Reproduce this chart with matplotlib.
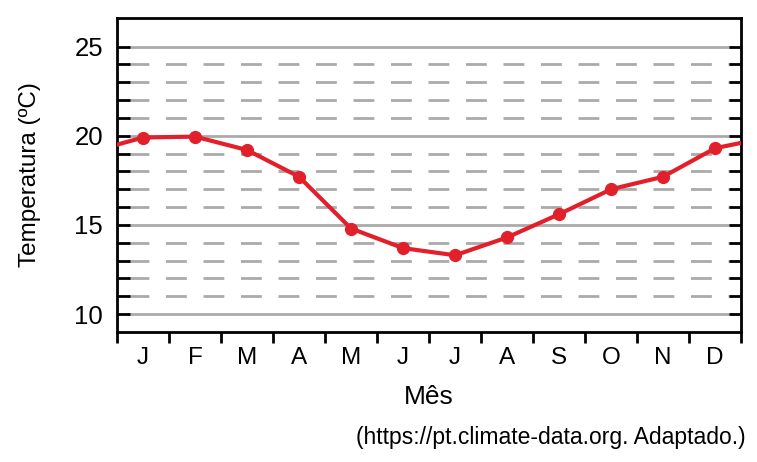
import numpy as np
import matplotlib
matplotlib.use("Agg")
import matplotlib.pyplot as plt

plt.rcParams["font.family"] = ["Liberation Sans", "DejaVu Sans"]

months = ["J", "F", "M", "A", "M", "J", "J", "A", "S", "O", "N", "D"]
temps = [19.9, 19.95, 19.2, 17.7, 14.8, 13.7, 13.3, 14.3, 15.6, 17.0, 17.7, 19.3]
edge_temps = [19.5, 19.6]  # line value at the left and right border of the plot
solid_levels = [10, 15, 20, 25]
dashed_levels = [l for l in range(11, 25) if l % 5 != 0]

fig = plt.figure(figsize=(7.57, 4.62), dpi=100)
ax = fig.add_axes([0.1546, 0.2814, 0.8244, 0.6797])

for lv in solid_levels:
    ax.axhline(lv, xmin=0.018, xmax=0.985, color="#aaaaaa", lw=2, zorder=1)
for lv in dashed_levels:
    ax.axhline(lv, xmin=0.018, xmax=0.985, color="#aaaaaa", lw=2,
               dashes=(7.5, 6), zorder=1)

x = np.arange(12) + 0.5
line_x = np.concatenate([[0], x, [12]])
line_y = [edge_temps[0]] + temps + [edge_temps[1]]
ax.plot(line_x, line_y, color="#e2202b", lw=3, zorder=3)
ax.plot(x, temps, "o", color="#e2202b", ms=8.5, zorder=4)

ax.set_xlim(0, 12)
ax.set_ylim(9.0, 26.6)

ax.set_yticks(range(10, 26))
ax.set_yticklabels([str(v) if v % 5 == 0 else "" for v in range(10, 26)], fontsize=18.5)
ax.tick_params(axis="y", direction="in", length=9, width=2, right=True, pad=10)

ax.set_xticks(range(13))
ax.set_xticklabels([])
ax.set_xticks(x, minor=True)
ax.set_xticklabels(months, minor=True, fontsize=17.5)
ax.tick_params(axis="x", which="major", direction="out", length=8, width=2)
ax.tick_params(axis="x", which="minor", length=0, pad=11)

for s in ax.spines.values():
    s.set_linewidth(2)

ax.set_ylabel("Temperatura (ºC)", fontsize=17.5, labelpad=24)
ax.set_xlabel("Mês", fontsize=19, labelpad=11)
fig.text(0.985, 0.052, "(https://pt.climate-data.org. Adaptado.)", fontsize=16.5,
         ha="right", va="center")

fig.savefig("out.png", dpi=100)
